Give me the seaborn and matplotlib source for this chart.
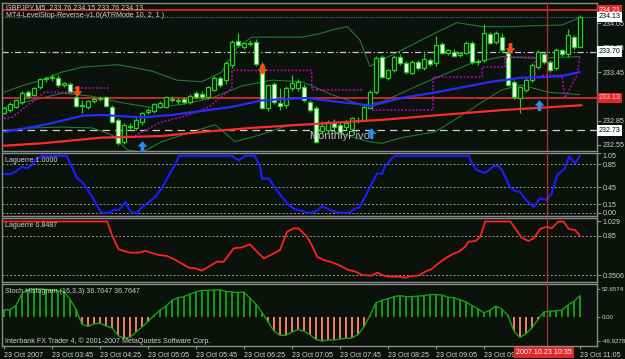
import numpy as np
import matplotlib
matplotlib.use("Agg")
import matplotlib.pyplot as plt
import matplotlib.transforms as mtransforms
import seaborn as sns

# ---------------- data ----------------
opens = [232.95, 232.98, 233.02, 233.08, 233.20, 233.17, 233.26, 233.36, 233.37, 233.38,
         233.29, 233.30, 233.14, 233.03, 233.02, 233.09, 233.12, 233.14, 233.02, 232.86,
         232.59, 232.78, 232.76, 232.83, 232.96, 232.97, 233.02, 233.02, 233.12, 233.09,
         233.12, 233.08, 233.19, 233.18, 233.14, 233.23, 233.38, 233.35, 233.54, 233.83,
         233.76, 233.80, 233.82, 233.52, 233.01, 233.30, 233.07, 233.04, 233.25, 233.25,
         233.26, 233.08, 233.01, 232.72, 232.73, 232.82, 232.80, 232.77, 232.75, 232.86,
         232.86, 233.01, 233.20, 233.64, 233.38, 233.47, 233.64, 233.56, 233.44, 233.57,
         233.50, 233.60, 233.56, 233.80, 233.69, 233.70, 233.66, 233.69, 233.81, 233.57,
         233.60, 233.92, 233.82, 233.88, 233.69, 233.33, 233.13, 233.23, 233.35, 233.51,
         233.67, 233.57, 233.50, 233.72, 233.67, 233.88, 233.76]
highs = [233.02, 233.08, 233.12, 233.21, 233.23, 233.27, 233.38, 233.40, 233.42, 233.41,
         233.33, 233.33, 233.17, 233.10, 233.11, 233.14, 233.16, 233.16, 233.04, 232.88,
         232.82, 232.82, 232.88, 232.96, 233.00, 233.07, 233.09, 233.16, 233.15, 233.13,
         233.14, 233.18, 233.21, 233.21, 233.28, 233.40, 233.40, 233.58, 233.84, 233.93,
         233.82, 233.85, 233.86, 233.57, 233.30, 233.33, 233.25, 233.28, 233.41, 233.36,
         233.30, 233.10, 233.03, 232.84, 232.86, 232.87, 232.83, 232.86, 232.90, 232.90,
         233.04, 233.23, 233.65, 233.66, 233.49, 233.66, 233.67, 233.58, 233.60, 233.60,
         233.69, 233.62, 233.89, 233.82, 233.74, 233.73, 233.70, 233.83, 233.83, 233.61,
         234.04, 233.95, 233.96, 233.93, 233.72, 233.35, 233.28, 233.37, 233.56, 233.72,
         233.70, 233.60, 233.75, 233.74, 233.98, 233.91, 234.15]
lows = [232.93, 232.96, 233.00, 233.06, 233.13, 233.15, 233.24, 233.33, 233.34, 233.27,
        233.27, 233.19, 233.02, 232.94, 232.99, 233.07, 233.09, 233.02, 232.82, 232.55,
        232.56, 232.74, 232.74, 232.80, 232.93, 232.95, 233.00, 233.00, 233.08, 233.06,
        233.06, 233.06, 233.12, 233.12, 233.12, 233.21, 233.27, 233.30, 233.50, 233.76,
        233.74, 233.77, 233.53, 232.99, 232.97, 233.06, 232.98, 233.01, 233.22, 233.22,
        233.08, 232.96, 232.57, 232.70, 232.70, 232.74, 232.69, 232.74, 232.72, 232.82,
        232.84, 232.99, 233.18, 233.37, 233.35, 233.45, 233.54, 233.43, 233.42, 233.48,
        233.48, 233.53, 233.53, 233.67, 233.66, 233.63, 233.64, 233.67, 233.55, 233.54,
        233.57, 233.79, 233.79, 233.70, 233.28, 233.12, 232.94, 233.20, 233.33, 233.49,
        233.55, 233.45, 233.47, 233.65, 233.64, 233.74, 233.76]
closes = [233.00, 233.06, 233.10, 233.19, 233.16, 233.25, 233.36, 233.38, 233.39, 233.29,
          233.31, 233.20, 233.03, 233.04, 233.09, 233.12, 233.13, 233.03, 232.83, 232.57,
          232.80, 232.77, 232.86, 232.94, 232.98, 233.05, 233.07, 233.14, 233.10, 233.11,
          233.08, 233.15, 233.14, 233.14, 233.26, 233.38, 233.29, 233.56, 233.82, 233.78,
          233.81, 233.81, 233.55, 233.01, 233.29, 233.08, 233.03, 233.25, 233.31, 233.33,
          233.10, 232.98, 232.59, 232.78, 232.83, 232.77, 232.71, 232.82, 232.88, 232.85,
          233.02, 233.20, 233.62, 233.39, 233.47, 233.64, 233.56, 233.45, 233.57, 233.50,
          233.61, 233.55, 233.78, 233.69, 233.72, 233.65, 233.68, 233.81, 233.57, 233.59,
          233.93, 233.81, 233.93, 233.72, 233.29, 233.14, 233.26, 233.35, 233.54, 233.70,
          233.57, 233.47, 233.72, 233.67, 233.91, 233.76, 234.13]

# moving averages (bar index, price)
blue_ma_x = [0, 4.7, 8, 13, 16.3, 23, 28, 33, 38, 43, 48, 50.5, 54.7, 59.7, 61, 66.3, 71.3,
             76.3, 81.3, 86.3, 90.5, 93, 96]
blue_ma_y = [232.71, 232.77, 232.82, 232.91, 232.92, 232.89, 232.92, 232.97, 233.02, 233.10,
             233.12, 233.13, 233.09, 233.05, 233.03, 233.13, 233.19, 233.26, 233.33, 233.38,
             233.39, 233.40, 233.45]
red_ma_x = [0, 6.3, 16.3, 21.3, 26.3, 33, 41.3, 49.7, 56.3, 63, 72.8, 83, 89.7, 96.3]
red_ma_y = [232.54, 232.57, 232.64, 232.65, 232.66, 232.71, 232.76, 232.80, 232.83, 232.86,
            232.92, 232.98, 233.01, 233.04]

# green envelope bands
upper_x = [0, 3, 6.3, 9.7, 13, 18.8, 21.3, 24.7, 28.8, 33, 36.3, 38.8, 41.3, 49.7, 53, 54.7,
           57.2, 59.3, 61, 63, 66.3, 71.3, 75.5, 79.7, 84.7, 87.2, 93, 96]
upper_y = [233.20, 233.28, 233.35, 233.45, 233.51, 233.54, 233.51, 233.46, 233.35, 233.33,
           233.45, 233.75, 233.88, 233.88, 233.93, 233.97, 234.01, 233.85, 233.52, 233.60,
           233.72, 233.91, 234.06, 234.01, 234.01, 234.02, 234.03, 234.12]
middle_x = [0, 4.7, 9.7, 14.7, 19.7, 24.7, 29.7, 34.7, 39.7, 44.7, 49.7, 54.7, 59.7, 63, 68,
            73, 78, 83, 88, 96]
middle_y = [233.01, 233.10, 233.19, 233.15, 233.07, 233.01, 233.05, 233.13, 233.28, 233.35,
            233.33, 233.17, 233.04, 233.08, 233.25, 233.41, 233.56, 233.64, 233.62, 233.64]
lower_x = [0, 4.7, 9.7, 14.7, 18, 20.5, 23, 26.3, 30.8, 35.2, 38.5, 42.5, 47.7, 51.8, 55.2,
           60.8, 63, 66.3, 71.8, 75.8, 79.7, 83, 86.3, 90.8, 96]
lower_y = [232.73, 232.76, 232.77, 232.76, 232.67, 232.49, 232.46, 232.59, 232.70, 232.80,
           232.59, 232.67, 232.80, 232.80, 232.71, 232.59, 232.57, 232.64, 232.71, 232.89,
           233.08, 233.23, 233.29, 233.20, 233.17]

# LevelStop-Reverse dotted step line (segments)
stop_segments = [
    ([0, 1.3, 6.8, 11.7], [232.88, 232.89, 233.20, 233.20]),
    ([11.7, 17.5], [233.25, 233.25]),
    ([21.3, 25.8, 30.8, 34.2, 38, 38, 51.3, 51.3, 59.7],
     [232.64, 232.82, 232.92, 233.02, 233.25, 233.47, 233.47, 233.23, 233.23]),
    ([61.3, 71.5, 71.5, 79.7, 79.7, 83.5, 83.5, 88.5, 88.5],
     [232.98, 232.98, 233.39, 233.39, 233.51, 233.51, 233.64, 233.64, 233.35]),
    ([89.7, 93, 93.5, 95.5, 96], [233.41, 233.41, 233.13, 233.41, 233.64]),
]
sell_x = [12.2, 43, 84.3]
sell_y = [233.22, 233.49, 233.75]
buy_x = [23, 61.2, 89.2]
buy_y = [232.54, 232.70, 233.04]

# Laguerre 1 (blue)
lag1_x = [0, 1, 1.9, 3, 3.8, 4.7, 5.2, 6.3, 10.2, 10.5, 11.3, 12.2, 13, 13.8, 14.7, 15.8,
          16.3, 17.5, 18.3, 19.2, 20, 20.3, 20.8, 21.3, 22.2, 23, 24.2, 25.2, 26.3, 27.5,
          28.5, 29.2, 38, 38.5, 39.2, 40.2, 41.8, 42.7, 43, 44.2, 44.7, 46.3, 47.5, 48.5,
          49.7, 50.5, 51.3, 52.2, 53, 53.8, 54.7, 55.8, 57.5, 58.5, 59.2, 60.2, 61.3, 62.2,
          63, 63.5, 64.7, 65.2, 77.5, 78, 78.8, 80.2, 80.8, 81.7, 82.5, 83, 84.3, 85.2, 86,
          86.8, 88.3, 89.3, 90.5, 91.3, 92.2, 93.5, 94.2, 95.2, 96]
lag1_y = [0.68, 0.675, 0.72, 0.81, 0.78, 0.84, 0.93, 1.0, 1.0, 0.99, 0.81, 0.60, 0.54, 0.43,
          0.28, 0.07, 0.0, 0.0, 0.05, 0.05, 0.16, 0.19, 0.07, 0.0, 0.0, 0.10, 0.19, 0.28, 0.43,
          0.66, 0.84, 1.0, 1.0, 0.96, 0.92, 1.0, 1.0, 0.81, 0.60, 0.60, 0.51, 0.28, 0.13, 0.06,
          0.03, 0.0, 0.0, 0.04, 0.11, 0.08, 0.03, 0.0, 0.0, 0.07, 0.09, 0.28, 0.51, 0.69, 0.68,
          0.81, 0.96, 1.0, 1.0, 0.87, 0.75, 0.70, 0.75, 0.82, 0.82, 0.75, 0.46, 0.38, 0.37,
          0.25, 0.10, 0.25, 0.23, 0.34, 0.66, 0.78, 0.99, 0.87, 1.0]

# Laguerre 2 (red)
lag2_x = [0, 17.2, 18, 19.1, 21, 22.4, 23.6, 25.8, 27.2, 28.6, 30.8, 31.9, 33, 34.1, 35.5,
          36.6, 38.3, 39.7, 41, 41.9, 43.3, 44.7, 46, 47.2, 48.3, 49.1, 50.5, 51.3, 52.2,
          53.3, 54.4, 55.8, 57.4, 58.6, 59.7, 61.3, 62.2, 63, 64.1, 65.8, 66.9, 68, 69.1,
          70.2, 71.3, 72.4, 73.6, 74.7, 75.8, 76.9, 77.4, 78.6, 79.4, 80.2, 84.4, 85.2, 86.3,
          87.4, 88.3, 89.4, 90.5, 91.3, 92.4, 93.3, 94.1, 95.2, 96]
lag2_y = [1.029, 1.029, 0.859, 0.679, 0.637, 0.637, 0.658, 0.608, 0.595, 0.545, 0.448, 0.440,
          0.410, 0.460, 0.523, 0.523, 0.692, 0.704, 0.742, 0.670, 0.566, 0.616, 0.670, 0.901,
          0.943, 0.943, 0.838, 0.733, 0.586, 0.545, 0.523, 0.482, 0.419, 0.398, 0.356, 0.348,
          0.385, 0.356, 0.335, 0.335, 0.322, 0.344, 0.348, 0.398, 0.431, 0.503, 0.566, 0.616,
          0.650, 0.712, 0.775, 0.784, 0.838, 1.029, 1.029, 0.943, 0.825, 0.784, 0.817, 0.935,
          0.964, 0.943, 1.029, 1.029, 0.935, 0.922, 0.850]

# Stoch histogram (one value per bar)
stoch = [13, 13, 21, 44, 52, 53, 53, 52, 50, 50, 48, 33, 14, -15, -19, -14, -13, -18, -22,
         -36, -42, -40, -30, -20, -10, 2, 12, 20, 31, 36, 38, 43, 47, 50, 50, 51, 51, 48, 47,
         46, 47, 35, 24, 8, -10, -28, -36, -36, -30, -25, -28, -35, -44, -47, -45, -45, -43,
         -42, -41, -35, -20, 2, 26, 31, 34, 38, 40, 38, 38, 39, 40, 42, 42, 41, 37, 36, 32,
         28, 21, 15, 7, 12, 20, 14, 2, -28, -40, -33, -22, -6, 9, 10, 11, 12, 22, 29, 40]

time_tick_pos = [0, 8, 16, 24, 32, 40, 48, 56, 64, 72, 80, 96]
time_tick_labels = ["23 Oct 2007", "23 Oct 03:45", "23 Oct 04:25", "23 Oct 05:05",
                    "23 Oct 05:45", "23 Oct 06:25", "23 Oct 07:05", "23 Oct 07:45",
                    "23 Oct 08:25", "23 Oct 09:05", "23 Oct 09:45", "23 Oct 11:05"]
price_ticks = [234.05, 233.75, 233.45, 232.85, 232.55]

# ---------------- style ----------------
sns.set_style("dark")
plt.rcParams['font.family'] = ['Liberation Sans', 'DejaVu Sans']
BG = '#0b110b'
GRID = '#8c8c8c'
TXT = '#d2d2d2'
FS = 5.1
CANDLE = '#22d022'

W, H = 625, 359
fig = plt.figure(figsize=(W / 100, H / 100), dpi=100, facecolor=BG)


def add_ax(top, bottom):
    ax = fig.add_axes([2 / W, 1 - bottom / H, 595 / W, (bottom - top) / H])
    ax.set_facecolor(BG)
    ax.grid(False)
    for s in ax.spines.values():
        s.set_color(GRID)
        s.set_linewidth(1.0)
        s.set_visible(True)
    ax.yaxis.tick_right()
    ax.tick_params(axis='y', colors=GRID, labelcolor=TXT, labelsize=FS, length=3,
                   width=0.8, pad=1.2, direction='out')
    ax.tick_params(axis='x', bottom=False, labelbottom=False)
    ax.set_xlim(-0.33, 98.85)
    ax.set_xlabel('')
    ax.set_ylabel('')
    return ax


ax0 = add_ax(3, 151)
ax1 = add_ax(153, 216)
ax2 = add_ax(218, 282)
ax3 = add_ax(284, 346)

n = len(closes)
idx = np.arange(n)
o = np.array(opens); c = np.array(closes); hi = np.array(highs); lo = np.array(lows)

# ---- main panel ----
ax0.set_ylim(232.475, 234.302)
for bx, by in ((upper_x, upper_y), (middle_x, middle_y), (lower_x, lower_y)):
    sns.lineplot(x=bx, y=by, ax=ax0, color='#1f7a35', lw=0.8, estimator=None, sort=False, zorder=2)

ax0.axhline(234.21, color='#d42a2a', lw=1.3, zorder=2)
ax0.axhline(233.13, color='#d42a2a', lw=1.3, zorder=2)
ax0.axhline(234.13, color='#56688a', lw=0.8, ls=(0, (1, 1)), zorder=2)
ax0.axhline(233.70, color='#c8c8c8', lw=0.9, ls=(0, (5, 2, 1, 2)), zorder=2)
ax0.axhline(232.73, color='#d0d0d0', lw=0.9, ls=(0, (6, 4)), zorder=2)

ax0.vlines(idx, lo, hi, color=CANDLE, lw=0.9, zorder=3)
b_lo = np.minimum(o, c)
b_h = np.maximum(np.abs(c - o), 0.006)
bull = c >= o
ax0.bar(idx[bull], b_h[bull], bottom=b_lo[bull], width=0.6, color=BG, edgecolor=CANDLE,
        linewidth=0.9, zorder=3)
ax0.bar(idx[~bull], b_h[~bull], bottom=b_lo[~bull], width=0.6, color='white', edgecolor=CANDLE,
        linewidth=0.9, zorder=3)

for xs, ys in stop_segments:
    ax0.plot(xs, ys, color='#c800c8', lw=1.1, ls=(0, (1.2, 1.2)), zorder=4)

sns.lineplot(x=red_ma_x, y=red_ma_y, ax=ax0, color='#ff2a2a', lw=1.6, estimator=None, sort=False, zorder=4)
sns.lineplot(x=blue_ma_x, y=blue_ma_y, ax=ax0, color='#2a2aff', lw=1.6, estimator=None, sort=False, zorder=4)

down_arrow = [(-0.35, 1), (0.35, 1), (0.35, 0.05), (0.9, 0.05), (0, -1), (-0.9, 0.05),
              (-0.35, 0.05), (-0.35, 1)]
up_arrow = [(px, -py) for px, py in down_arrow]
ax0.scatter(sell_x, sell_y, marker=down_arrow, s=60, color='#ff4a1c', linewidths=0, zorder=6)
ax0.scatter(buy_x, buy_y, marker=up_arrow, s=60, color='#2b8cf0', linewidths=0, zorder=6)

ax0.text(50.8, 232.665, 'MonthlyPivot', color='#bdbdbd', fontsize=8, va='center', ha='left', zorder=5)
ax0.text(0.007, 0.972, 'GBPJPY,M5  233.76 234.15 233.76 234.13', transform=ax0.transAxes,
         color=TXT, fontsize=FS, va='center', ha='left', zorder=7)
ax0.text(0.007, 0.918, 'MT4-LevelStop-Reverse-v1.0(ATRMode 10, 2, 1 )', transform=ax0.transAxes,
         color=TXT, fontsize=FS, va='center', ha='left', zorder=7)
ax0.set_yticks(price_ticks)
ax0.set_yticklabels([f'{v:.2f}' for v in price_ticks])

# ---- Laguerre 1 ----
ax1.set_ylim(-0.058, 1.05)
for lv in [0.85, 0.45, 0.15, 0.0]:
    ax1.axhline(lv, color='#9a9a9a', lw=0.7, ls=(0, (2, 2)), zorder=1)
sns.lineplot(x=lag1_x, y=lag1_y, ax=ax1, color='#1c1cff', lw=1.5, estimator=None, sort=False, zorder=3)
ax1.set_yticks([1.05, 0.85, 0.45, 0.15, 0.0])
ax1.set_yticklabels(['1.05', '0.85', '0.45', '0.15', '0.00'])
ax1.get_yticklabels()[0].set_va('top')
ax1.text(0.005, 0.885, 'Laguerre 1.0000', transform=ax1.transAxes, color=TXT, fontsize=FS,
         va='center', ha='left')

# ---- Laguerre 2 ----
ax2.set_ylim(0.268, 1.073)
for lv in [0.85, 0.35]:
    ax2.axhline(lv, color='#9a9a9a', lw=0.7, ls=(0, (2, 2)), zorder=1)
sns.lineplot(x=lag2_x, y=lag2_y, ax=ax2, color='#ff2222', lw=1.3, estimator=None, sort=False, zorder=3)
ax2.set_yticks([1.029, 0.85, 0.35])
ax2.set_yticklabels(['1.029', '0.85', '0.3506'])
ax2.text(0.005, 0.89, 'Laguerre 0.8487', transform=ax2.transAxes, color=TXT, fontsize=FS,
         va='center', ha='left')

# ---- Stoch histogram ----
ax3.set_ylim(-56.5, 62.3)
st = np.array(stoch, dtype=float)
cols = np.where(st >= 0, '#0f9a0f', '#f07a62')
ax3.bar(idx, st, width=0.38, color=cols, edgecolor='none', linewidth=0, zorder=2)
sns.lineplot(x=idx, y=st, ax=ax3, color='#16a016', lw=1.0, estimator=None, sort=False, zorder=3)
ax3.set_yticks([52.6574, 0.0, -46.9278])
ax3.set_yticklabels(['52.6574', '0.00', '-46.9278'])
ax3.tick_params(axis='y', labelsize=4.4, pad=0.8, length=2.5)
ax3.text(0.005, 0.887, 'Stoch Histogram (16,3,3) 36.7647 36.7647', transform=ax3.transAxes,
         color=TXT, fontsize=FS, va='center', ha='left')
ax3.text(0.005, 0.085, 'Interbank FX Trader 4, \u00a9 2001-2007 MetaQuotes Software Corp.',
         transform=ax3.transAxes, color=TXT, fontsize=FS, va='center', ha='left')
ax3.tick_params(axis='x', bottom=True, labelbottom=True, colors=GRID, labelcolor=TXT,
                labelsize=FS, length=2.5, width=0.8, pad=1.5)
ax3.set_xticks(time_tick_pos)
ax3.set_xticklabels(time_tick_labels)
for lab in ax3.get_xticklabels():
    lab.set_ha('left')

for ax in (ax0, ax1, ax2, ax3):
    ax.axvline(90.5, color='#b83030', lw=0.9, zorder=5)

# ---- boxed labels ----
tr = lambda ax: mtransforms.blended_transform_factory(fig.transFigure, ax.transData)
boxes = [(234.21, '234.21', '#e02a2a', 'white'), (234.13, '234.13', 'white', 'black'),
         (233.70, '233.70', 'white', 'black'), (233.13, '233.13', '#e02a2a', '#ffd0d0'),
         (232.73, '232.73', 'white', 'black')]
for yv, s, fc, tc in boxes:
    fig.text(598.5 / W, yv, s, transform=tr(ax0), color=tc, fontsize=FS, va='center', ha='left',
             bbox=dict(boxstyle='square,pad=0.25', facecolor=fc, edgecolor='none'), zorder=10)
fig.text(544 / W, 1 - 352.5 / H, '2007.10.23 10:35', color='white', fontsize=FS, va='center',
         ha='center', bbox=dict(boxstyle='square,pad=0.3', facecolor='#e02a2a', edgecolor='none'),
         zorder=10)

fig.savefig('out.png', dpi=100, facecolor=BG)
